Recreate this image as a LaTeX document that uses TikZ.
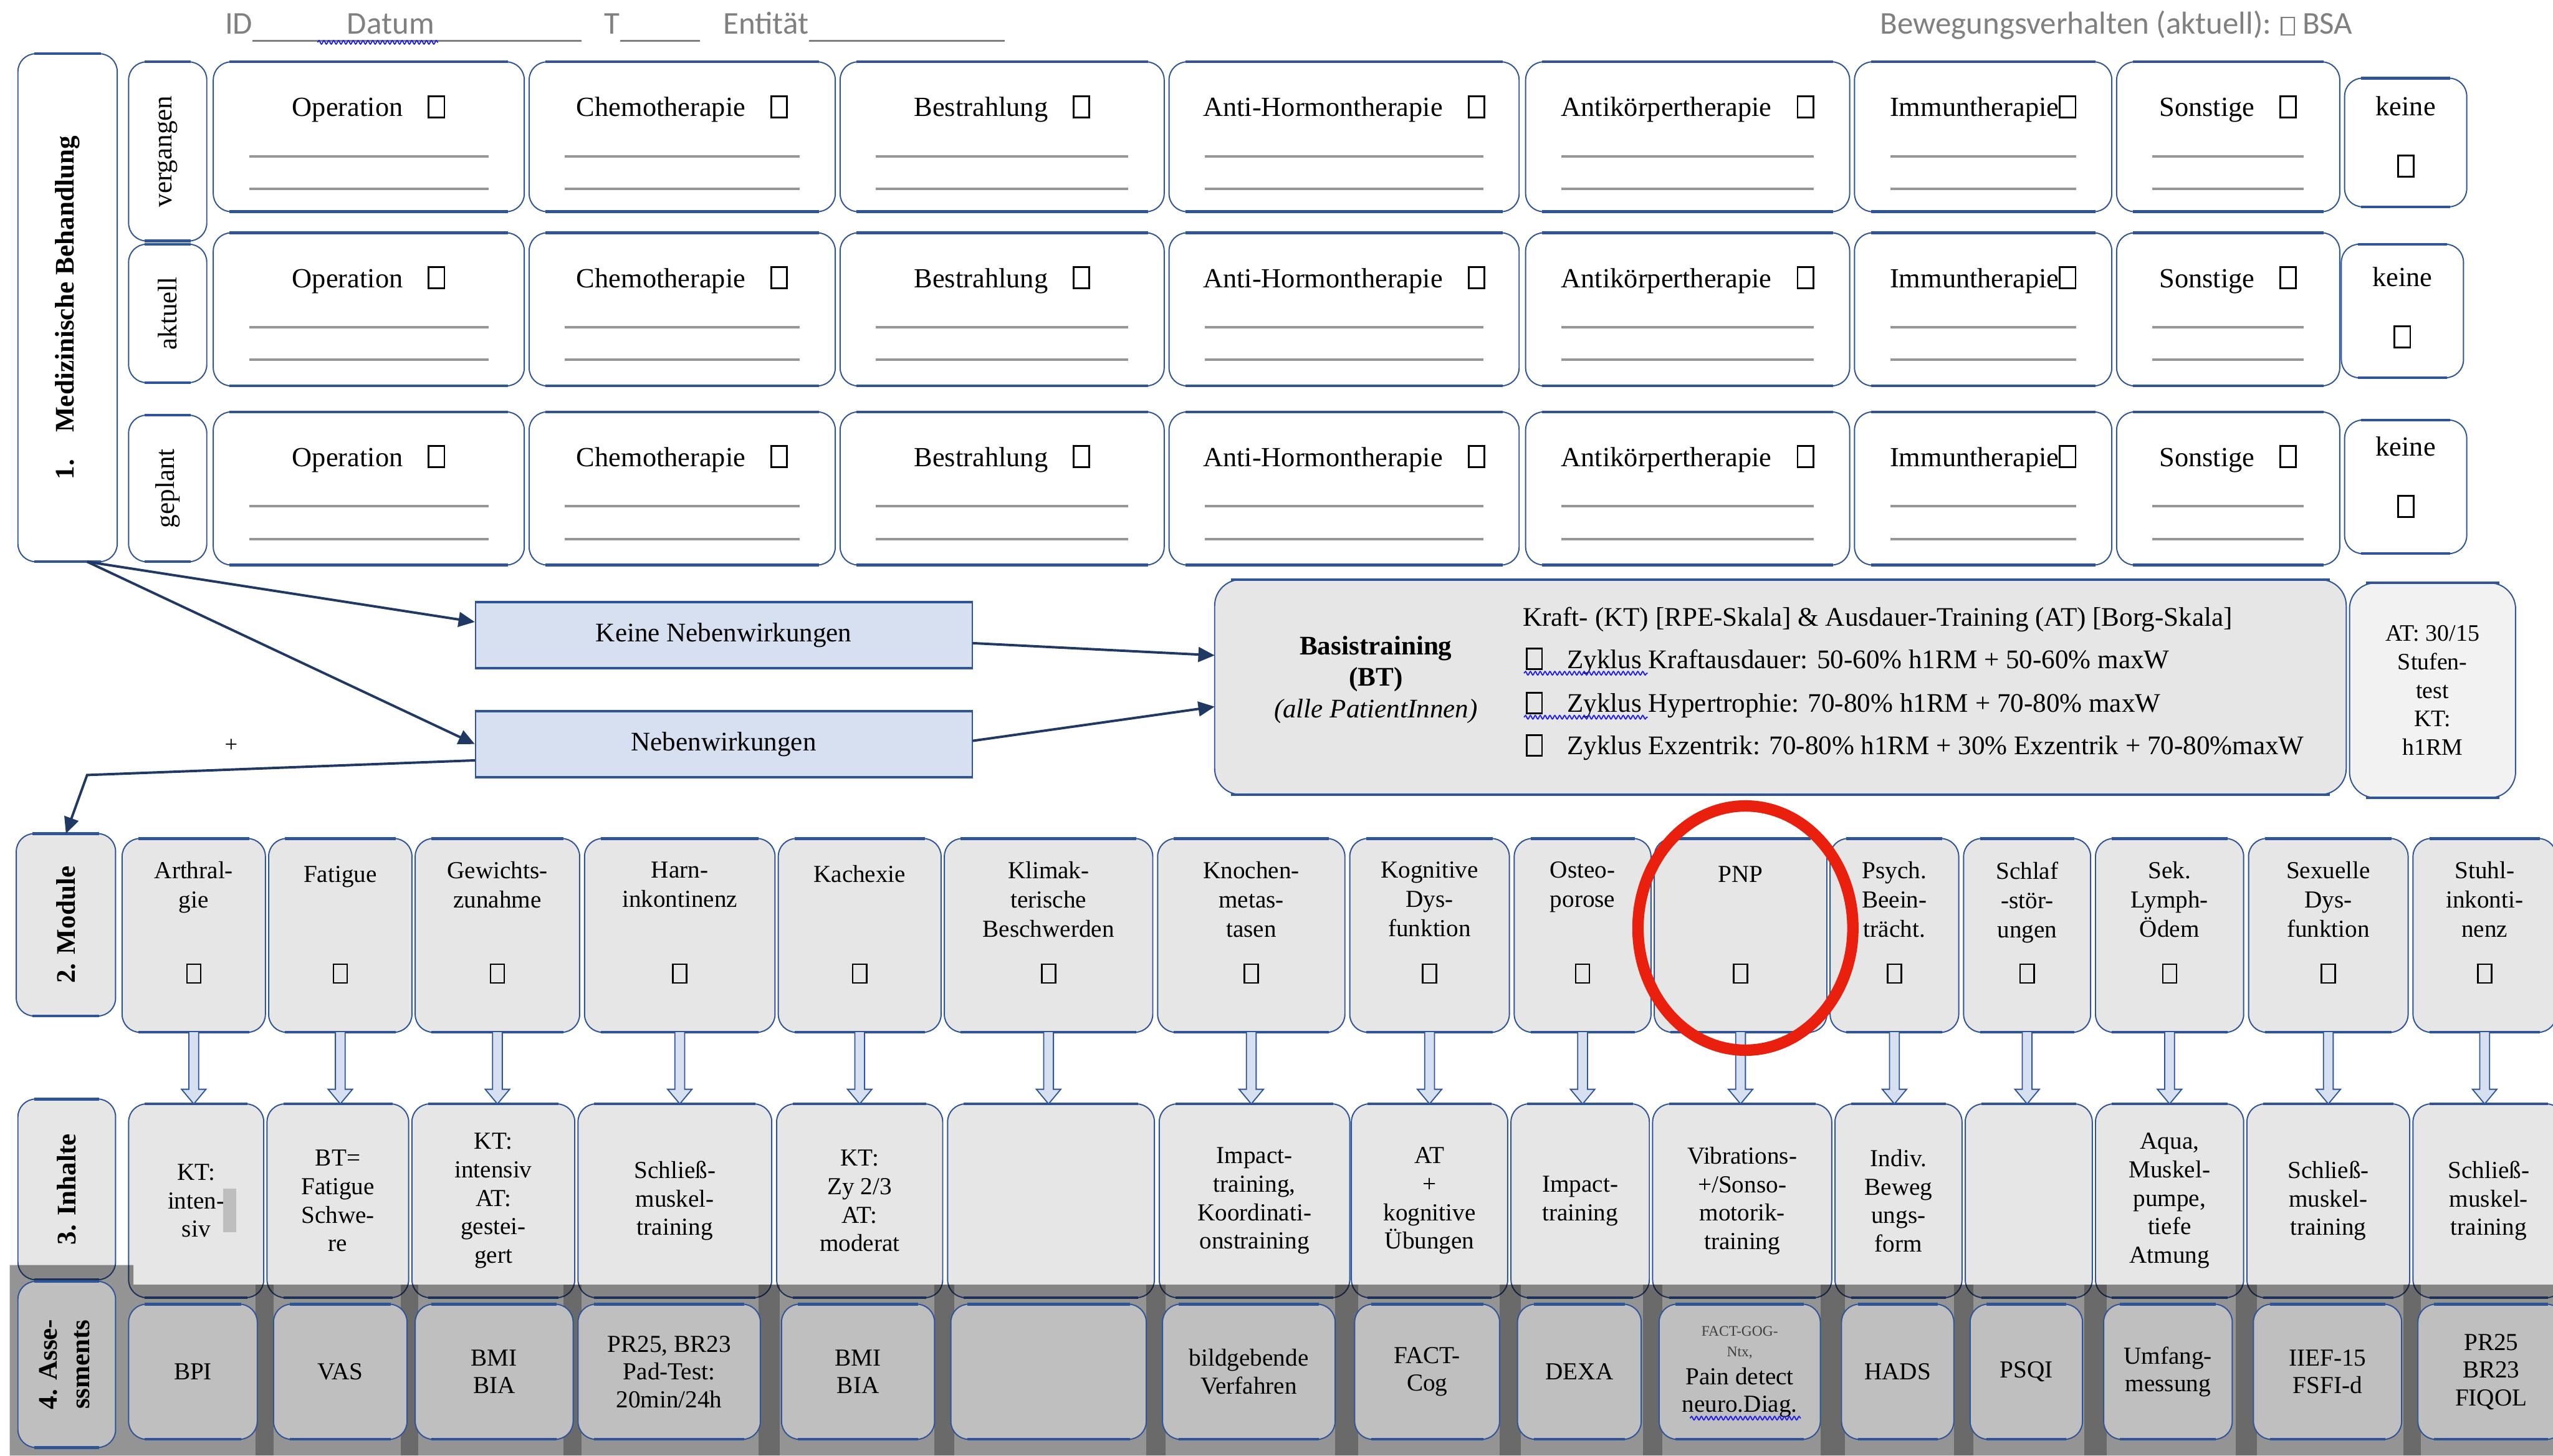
\documentclass[tikz,border=0pt]{standalone}
\usepackage{fontspec}
\setmainfont{Liberation Serif}
\newfontfamily\hdrfont{Carlito}
\usetikzlibrary{shapes.geometric,arrows.meta,calc,decorations.pathmorphing}

\definecolor{bord}{RGB}{47,85,151}
\definecolor{navy}{RGB}{31,56,100}
\definecolor{cellgray}{RGB}{230,230,230}
\definecolor{atgray}{RGB}{242,242,242}
\definecolor{assgray}{RGB}{191,191,191}
\definecolor{nwfill}{RGB}{214,224,240}
\definecolor{hdrgray}{RGB}{128,128,128}
\definecolor{markred}{RGB}{234,32,14}
\definecolor{spellblue}{RGB}{30,30,235}
\definecolor{linegray}{RGB}{150,150,150}
\definecolor{bargray}{RGB}{190,190,190}

\newcommand\fs[2]{\fontsize{#1}{#2}\selectfont}
\newcommand\cb{\mbox{\setlength{\fboxsep}{0pt}\setlength{\fboxrule}{0.065em}\framebox{\rule{0pt}{0.7em}\hspace{0.5em}}}}
\newcommand\lab{\fs{16.5}{20}\bfseries}
\newcommand\rlab{\fs{16.5}{20}}

% rounded cell with heavier top and bottom edges: style, name, x1, y1, x2, y2, text
\newcommand\rbox[7]{%
  \node[#1, minimum width={#5-#3}, minimum height={#6-#4}] (#2) at ({(#3+#5)/2},{(#4+#6)/2}) {#7};
  \draw[tbedge] ([xshift=10pt]#2.north west) -- ([xshift=-10pt]#2.north east)
                ([xshift=10pt]#2.south west) -- ([xshift=-10pt]#2.south east);}

% treatment cell: name, x1, y1, x2, y2, title
\newcommand\tbox[6]{%
  \rbox{whitecell}{#1}{#2}{#3}{#4}{#5}{}
  \node[ttl, anchor=base] (#1-t) at ({(#2+#4)/2},{#3+33.5}) {#6};
  \draw[fline] ({#2+22},{#3+58}) -- ({#4-22},{#3+58})
               ({#2+22},{#3+78}) -- ({#4-22},{#3+78});}

% "keine" cell: name, x1, y1, x2, y2, baseline offset
\newcommand\kbox[6]{%
  \rbox{whitecell}{#1}{#2}{#3}{#4}{#5}{}
  \node[ttl, anchor=base] (#1-t) at ({(#2+#4)/2},{#3+#6}) {keine};
  \node[ttl] (#1-c) at ({(#2+#4)/2},{#3+#6+31}) {\cb};}

% module cell: name, x1, x2, title
\newcommand\modbox[4]{%
  \rbox{greycell}{#1}{#2}{515}{#3}{634}{}
  \node[modtxt, anchor=north] (#1-t) at ({(#2+#3)/2},529) {#4};
  \node[cbtxt] (#1-c) at ({(#2+#3)/2},598) {\cb};}

% content cell: name, x1, x2, text
\newcommand\inhbox[4]{\rbox{greycell, inhtxt}{#1}{#2}{678}{#3}{797}{#4}}

% assessment cell: name, x1, x2, text
\newcommand\assbox[4]{\rbox{asscell}{#1}{#2}{801}{#3}{884}{#4}}

% hollow block arrow from a module cell down to its content cell
\newcommand\harr[2]{\draw[harrow] let \p1=(#1.south), \p2=(#2.north) in
  (\x1-3pt,\y1) -- (\x1-3pt,\y2+9pt) -- (\x1-7.5pt,\y2+9pt) -- (\x1,\y2)
  -- (\x1+7.5pt,\y2+9pt) -- (\x1+3pt,\y2+9pt) -- (\x1+3pt,\y1);}

\begin{document}
\begin{tikzpicture}[x=1pt,y=-1pt,
  cellbox/.style={draw=bord, line width=0.75pt, rounded corners=11pt, inner sep=0pt, outer sep=0pt},
  whitecell/.style={cellbox, fill=white},
  greycell/.style={cellbox, fill=cellgray},
  asscell/.style={cellbox, fill=assgray, align=center, font=\fs{15}{17}},
  basiscell/.style={cellbox, fill=cellgray, rounded corners=16pt},
  atcell/.style={cellbox, fill=atgray, rounded corners=16pt, align=center, font=\fs{14.5}{17.5}},
  nwcell/.style={draw=bord, line width=0.75pt, fill=nwfill, inner sep=0pt, font=\fs{16.5}{19}},
  tbedge/.style={draw=bord, line width=1.7pt},
  ttl/.style={font=\fs{17}{20}, inner sep=0pt},
  fline/.style={draw=linegray, line width=1.5pt},
  modtxt/.style={font=\fs{15}{18}, align=center, inner sep=0pt, execute at begin node=\strut},
  inhtxt/.style={font=\fs{15}{17.5}, align=center},
  cbtxt/.style={font=\fs{15}{18}, inner sep=0pt},
  midtxt/.style={font=\fs{16.5}{19.5}, inner sep=0pt},
  conn/.style={draw=navy, line width=1.5pt, -{Triangle[length=10pt,width=9pt]}},
  harrow/.style={draw=bord, line width=0.7pt, fill=nwfill},
  hdr/.style={font=\hdrfont\fs{19.5}{22}, text=hdrgray, inner sep=0pt},
  uline/.style={draw=hdrgray, line width=1.3pt},
  spell/.style={draw=spellblue, line width=0.7pt, decorate, decoration={snake, amplitude=1.1pt, segment length=3pt}},
  band/.style={fill=black, fill opacity=0.42},
  strip/.style={fill=black, fill opacity=0.28},
  redring/.style={draw=markred, line width=7pt, ellipse, minimum width=132pt, minimum height=150pt, inner sep=0pt}]

\clip (0,0) rectangle (1568,894);
\useasboundingbox (0,0) rectangle (1568,894);
\fill[white] (0,0) rectangle (1568,894);

% ---------- header line ----------
\node[hdr, anchor=base west] (hid) at (138,21) {ID};
\node[hdr, anchor=base west] (hdatum) at (213,21) {Datum};
\node[hdr, anchor=base west] (ht) at (371,21) {T};
\node[hdr, anchor=base west] (hent) at (444,21) {Entität};
\draw[uline] (155,25) -- (357,25);
\draw[uline] (381,25) -- (430,25);
\draw[uline] (497,25) -- (617,25);
\draw[spell] (195,26) -- (269,26);
\node[hdr, anchor=base east] (hbew) at (1445,21) {Bewegungsverhalten (aktuell): {\fs{14}{16}\cb}\ BSA};

% ---------- 1. medical treatment ----------
\rbox{whitecell}{med}{11}{33}{72}{345}{\rotatebox{90}{\lab 1.\hspace{1em}Medizinische Behandlung}}
\rbox{whitecell}{lv}{79}{38}{127}{148}{\rotatebox{90}{\rlab vergangen}}
\rbox{whitecell}{la}{79}{150}{127}{235}{\rotatebox{90}{\rlab aktuell}}
\rbox{whitecell}{lg}{79}{255}{127}{345}{\rotatebox{90}{\rlab geplant}}

\foreach \r/\ya/\yb in {1/38/130, 2/143/237, 3/253/347}{
  \tbox{op\r}{131}{\ya}{322}{\yb}{Operation\hspace{0.9em}\cb}
  \tbox{ch\r}{325}{\ya}{513}{\yb}{Chemotherapie\hspace{0.9em}\cb}
  \tbox{be\r}{516}{\ya}{715}{\yb}{Bestrahlung\hspace{0.9em}\cb}
  \tbox{ah\r}{718}{\ya}{933}{\yb}{Anti-Hormontherapie\hspace{0.9em}\cb}
  \tbox{ak\r}{937}{\ya}{1136}{\yb}{Antikörpertherapie\hspace{0.9em}\cb}
  \tbox{im\r}{1139}{\ya}{1297}{\yb}{Immuntherapie\cb}
  \tbox{so\r}{1300}{\ya}{1437}{\yb}{Sonstige\hspace{0.9em}\cb}
}
\kbox{ke1}{1440}{48}{1515}{127}{23}
\kbox{ke2}{1438}{150}{1513}{232}{26}
\kbox{ke3}{1440}{258}{1515}{340}{22}

% ---------- side effects and basic training ----------
\node[nwcell, minimum width=305, minimum height=40] (kn) at (444.5,390) {Keine Nebenwirkungen};
\node[nwcell, minimum width=305, minimum height=40] (nw) at (444.5,457) {Nebenwirkungen};
\foreach \n in {kn,nw}
  \draw[tbedge, line width=1.4pt] (\n.north west) -- (\n.north east) (\n.south west) -- (\n.south east);

\rbox{basiscell}{basis}{746}{356}{1441}{488}{}
\node[midtxt, align=center] (bt) at (845,417.5) {\textbf{Basistraining}\\\textbf{(BT)}\\\textit{(alle PatientInnen)}};
\node[midtxt, anchor=base west] (kt) at (935,384.5) {Kraft- (KT) [RPE-Skala] \& Ausdauer-Training (AT) [Borg-Skala]};
\node[midtxt, anchor=base west] (z1) at (937,410.5) {\cb\hspace{0.9em}Zyklus Kraftausdauer: 50-60\% h1RM + 50-60\% maxW};
\node[midtxt, anchor=base west] (z2) at (937,437.5) {\cb\hspace{0.9em}Zyklus Hypertrophie: 70-80\% h1RM + 70-80\% maxW};
\node[midtxt, anchor=base west] (z3) at (937,463.5) {\cb\hspace{0.9em}Zyklus Exzentrik: 70-80\% h1RM + 30\% Exzentrik + 70-80\%maxW};
\draw[spell] (936,413.5) -- (1012,413.5);
\draw[spell] (936,440.5) -- (1012,440.5);

\rbox{atcell}{atb}{1443}{358}{1545}{490}{AT: 30/15\\Stufen-\\test\\KT:\\h1RM}

% ---------- 2. modules ----------
\rbox{greycell}{mod}{10}{512}{71}{624}{\rotatebox{90}{\lab 2. Module}}
\modbox{m1}{75}{163}{Arthral-\\gie}
\modbox{m2}{165}{253}{Fatigue}
\modbox{m3}{255}{356}{Gewichts-\\zunahme}
\modbox{m4}{359}{476}{Harn-\\inkontinenz}
\modbox{m5}{478}{578}{Kachexie}
\modbox{m6}{580}{708}{Klimak-\\terische\\Beschwerden}
\modbox{m7}{711}{826}{Knochen-\\metas-\\tasen}
\modbox{m8}{829}{927}{Kognitive\\Dys-\\funktion}
\modbox{m9}{930}{1014}{Osteo-\\porose}
\modbox{m10}{1016}{1122}{PNP}
\modbox{m11}{1124}{1203}{Psych.\\Beein-\\trächt.}
\modbox{m12}{1206}{1284}{Schlaf\\-stör-\\ungen}
\modbox{m13}{1287}{1378}{Sek.\\Lymph-\\Ödem}
\modbox{m14}{1381}{1479}{Sexuelle\\Dys-\\funktion}
\modbox{m15}{1482}{1570}{Stuhl-\\inkonti-\\nenz}

% ---------- connectors of the upper part ----------
\draw[conn] ([xshift=12pt]med.south) -- ([yshift=8pt]kn.west);
\draw[conn] ([xshift=12pt]med.south) -- (nw.west);
\draw[conn] ([yshift=-5pt]kn.east) -- ([yshift=19.5pt]basis.west);
\draw[conn] ([yshift=2pt]nw.east) -- ([yshift=-12pt]basis.west);
\coordinate (bend) at (53.5,476);
\draw[conn] ([yshift=-10pt]nw.west) -- (bend) -- (mod.north);
\node[font=\fs{14}{16}, inner sep=0pt] (plus) at (142,458) {+};

% ---------- 3. contents ----------
\rbox{greycell}{inh}{11}{675}{71}{786}{\rotatebox{90}{\lab 3. Inhalte}}
\inhbox{i1}{79}{162}{KT:\\inten-\\siv}
\fill[bargray] (137,730) rectangle (145,757);
\inhbox{i2}{164}{251}{BT=\\Fatigue\\Schwe-\\re}
\inhbox{i3}{253}{353}{KT:\\intensiv\\AT:\\gestei-\\gert}
\inhbox{i4}{355}{474}{Schließ-\\muskel-\\training}
\inhbox{i5}{477}{579}{KT:\\Zy 2/3\\AT:\\moderat}
\inhbox{i6}{582}{709}{}
\inhbox{i7}{712}{829}{Impact-\\training,\\Koordinati-\\onstraining}
\inhbox{i8}{830}{926}{AT\\+\\kognitive\\Übungen}
\inhbox{i9}{928}{1013}{Impact-\\training}
\inhbox{i10}{1015}{1125}{Vibrations-\\+/Sonso-\\motorik-\\training}
\inhbox{i11}{1127}{1205}{Indiv.\\Beweg\\ungs-\\form}
\inhbox{i12}{1207}{1285}{}
\inhbox{i13}{1287}{1378}{Aqua,\\Muskel-\\pumpe,\\tiefe\\Atmung}
\inhbox{i14}{1380}{1480}{Schließ-\\muskel-\\training}
\inhbox{i15}{1482}{1575}{Schließ-\\muskel-\\training}

\foreach \k in {1,...,15} { \harr{m\k}{i\k} }

% ---------- shaded band of the assessment row ----------
\fill[band] (6,777) -- (82,777) -- (82,789) -- (1568,789) -- (1568,894) -- (6,894) -- cycle;
\foreach \a/\b in {157/168, 246/257, 346/357, 466/479, 574/586, 704/716, 820/834, 921/934,
                   1009/1021, 1118/1133, 1200/1212, 1280/1294, 1373/1386, 1476/1487}
  \fill[strip] (\a,789) rectangle (\b,894);

% ---------- 4. assessments ----------
\rbox{asscell}{ass}{11}{787}{71}{889}{\rotatebox{90}{\lab\begin{tabular}{@{}c@{}}4. Asse-\\ssments\end{tabular}}}
\assbox{a1}{79}{158}{BPI}
\assbox{a2}{168}{250}{VAS}
\assbox{a3}{255}{352}{BMI\\BIA}
\assbox{a4}{355}{467}{PR25, BR23\\Pad-Test:\\20min/24h}
\assbox{a5}{480}{574}{BMI\\BIA}
\assbox{a6}{584}{704}{}
\assbox{a7}{714}{820}{bildgebende\\Verfahren}
\assbox{a8}{832}{921}{FACT-\\Cog}
\assbox{a9}{932}{1008}{DEXA}
\assbox{a10}{1019}{1118}{{\fs{9}{10}\color{darkgray}FACT-GOG-}\\[-4pt]{\fs{9}{10}\color{darkgray}Ntx,}\\Pain detect\\neuro.Diag.}
\assbox{a11}{1131}{1200}{HADS}
\assbox{a12}{1210}{1279}{PSQI}
\assbox{a13}{1292}{1371}{Umfang-\\messung}
\assbox{a14}{1384}{1475}{IIEF-15\\FSFI-d}
\assbox{a15}{1485}{1575}{PR25\\BR23\\FIQOL}
\draw[spell] (1038,871) -- (1106,871);

% ---------- highlight ring around PNP ----------
\node[redring] (ring) at (1072,570) {};
\end{tikzpicture}
\end{document}
